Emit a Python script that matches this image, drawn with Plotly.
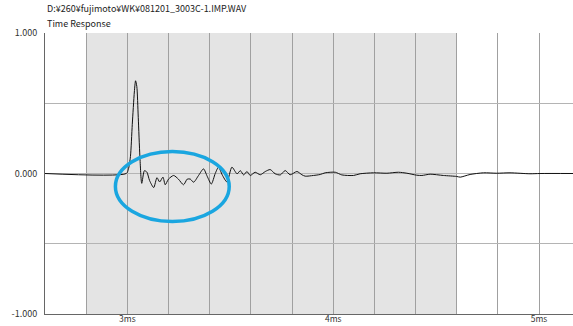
import plotly.graph_objects as go

# Impulse response samples (time in ms, normalised amplitude)
time_ms = [2.60, 2.995, 3.005, 3.015, 3.024, 3.034, 3.040, 3.046, 3.053, 3.061,
           3.070, 3.083, 3.095, 3.108, 3.128, 3.144, 3.157, 3.173, 3.184, 3.200,
           3.225, 3.248, 3.273, 3.291, 3.306, 3.322, 3.346, 3.370, 3.388, 3.408,
           3.427, 3.443, 3.461, 3.484, 3.508, 3.533, 3.549, 3.565, 3.581, 3.597,
           3.621, 3.646, 3.670, 3.694, 3.718, 3.743, 3.767, 3.791, 3.824, 3.848,
           3.864, 3.904, 3.937, 3.961, 4.010, 4.042, 4.099, 4.131, 4.196, 4.261,
           4.317, 4.358, 4.406, 4.431, 4.471, 4.535, 4.600, 4.617, 4.665, 4.730,
           4.795, 4.859, 4.956, 5.005, 5.165]
amplitude = [0.0, 0.0, 0.03, 0.12, 0.35, 0.58, 0.66, 0.62, 0.40, 0.12,
             -0.07, 0.02, 0.01, -0.05, -0.10, -0.03, -0.06, -0.026, -0.08, -0.04,
             -0.014, -0.04, -0.08, -0.04, -0.04, -0.062, -0.014, 0.033, -0.02, -0.075,
             0.0, 0.045, -0.01, -0.06, 0.045, -0.002, 0.02, -0.01, 0.014, -0.014,
             0.009, -0.009, 0.014, 0.028, -0.002, -0.01, 0.021, -0.009, 0.014, -0.009,
             -0.019, -0.014, -0.007, 0.005, 0.009, -0.01, -0.014, -0.002, 0.005, 0.002,
             0.009, 0.002, -0.012, -0.014, -0.005, -0.014, -0.021, -0.026, -0.007, 0.005,
             0.002, 0.005, -0.002, 0.0, 0.0]

# Axis ticks
x_tick_vals = [2.6, 2.8, 3.0, 3.2, 3.4, 3.6, 3.8, 4.0, 4.2, 4.4, 4.6, 4.8, 5.0]
x_tick_text = ["", "", "3ms", "", "", "", "", "4ms", "", "", "", "", "5ms"]
y_tick_vals = [-1.0, -0.5, 0.0, 0.5, 1.0]
y_tick_text = ["-1.000", "", "0.000", "", "1.000"]

# Analysis window (shaded) and highlighted region
window_start, window_end = 2.8, 4.6
ring_x0, ring_x1, ring_y0, ring_y1 = 2.942, 3.495, -0.342, 0.157

file_label = "D:¥260¥fujimoto¥WK¥081201_3003C-1.IMP.WAV"
chart_title = "Time Response"

FONT = "Noto Sans CJK JP, DejaVu Sans, sans-serif"

fig = go.Figure()
fig.add_trace(go.Scatter(
    x=time_ms, y=amplitude, mode="lines",
    line=dict(color="#111111", width=1, shape="spline", smoothing=0.7),
    hoverinfo="skip", showlegend=False,
))

fig.add_shape(type="rect", xref="x", yref="paper",
              x0=window_start, x1=window_end, y0=0, y1=1,
              fillcolor="#e4e4e4", line=dict(width=0), layer="below")

fig.add_shape(type="circle", xref="x", yref="y",
              x0=ring_x0, x1=ring_x1, y0=ring_y0, y1=ring_y1,
              line=dict(color="#1aa6e0", width=3.5), layer="above")

fig.add_annotation(text=file_label, xref="paper", yref="paper",
                   x=0, y=1, xanchor="left", yanchor="bottom", yshift=16,
                   showarrow=False, font=dict(family=FONT, size=9, color="#222222"))
fig.add_annotation(text=chart_title, xref="paper", yref="paper",
                   x=0, y=1, xanchor="left", yanchor="bottom", yshift=1,
                   showarrow=False, font=dict(family=FONT, size=9, color="#222222"))

fig.update_layout(
    width=573, height=326,
    margin=dict(l=45, r=0, t=33, b=12, autoexpand=False),
    paper_bgcolor="white", plot_bgcolor="white",
    font=dict(family=FONT, size=9, color="#333333"),
    xaxis=dict(range=[2.6, 5.165], tickmode="array",
               tickvals=x_tick_vals, ticktext=x_tick_text,
               showgrid=True, gridcolor="#a0a0a0", gridwidth=1,
               zeroline=False, showline=True, linecolor="#666666", linewidth=1,
               ticks="", automargin=False, ticklabelstandoff=-3,
               tickfont=dict(size=8.5, color="#333333")),
    yaxis=dict(range=[-1.0, 1.0], tickmode="array",
               tickvals=y_tick_vals, ticktext=y_tick_text,
               showgrid=True, gridcolor="#b4b4b4", gridwidth=1,
               zeroline=False, showline=True, linecolor="#666666", linewidth=1,
               ticks="", automargin=False, ticklabelstandoff=5,
               tickfont=dict(size=9, color="#333333")),
)

fig.write_html("out.html")
